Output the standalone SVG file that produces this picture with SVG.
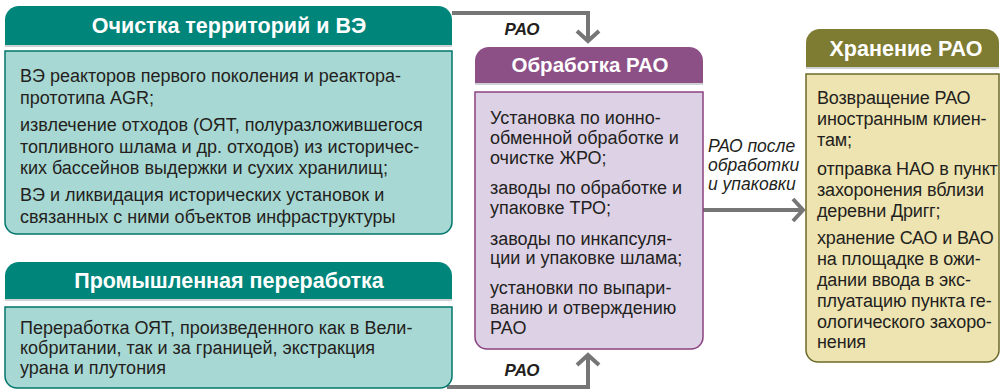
<svg xmlns="http://www.w3.org/2000/svg" width="1001" height="390" viewBox="0 0 1001 390">
  <defs>
    <marker id="chev" markerUnits="userSpaceOnUse" markerWidth="26" markerHeight="26" refX="13" refY="13" orient="auto" viewBox="0 0 26 26">
      <path d="M3,2 L13,13 L3,24" fill="none" stroke="#767676" stroke-width="4"/>
    </marker>
  </defs>
  <style>
    .hdr { font-family: "Liberation Sans", Arial, sans-serif; font-weight: bold; font-size: 21.5px; fill: #ffffff; text-anchor: middle; }
    .hdr-m { font-size: 20.5px; }
    .txt { font-family: "Liberation Sans", Arial, sans-serif; font-size: 18px; fill: #231f20; }
    .txt-r { letter-spacing: -0.15px; }
    .lbl { font-family: "Liberation Sans", Arial, sans-serif; font-style: italic; font-size: 17.5px; fill: #231f20; }
    .lblb { font-family: "Liberation Sans", Arial, sans-serif; font-style: italic; font-weight: bold; font-size: 17px; fill: #231f20; text-anchor: middle; }
    .conn { fill: none; stroke: #767676; stroke-width: 4; }
    .shadow { fill: #cfd2d2; }
    .teal-h { fill: #00857a; }
    .teal-b { fill: #a8d8d3; stroke: #00766c; stroke-width: 1.5; }
    .purp-h { fill: #8c5087; }
    .purp-b { fill: #ddd1e6; stroke: #8a4280; stroke-width: 1.5; }
    .olive-h { fill: #7e7b32; }
    .olive-b { fill: #eee4b1; stroke: #6c6a2a; stroke-width: 1.5; }
  </style>

  <g id="connectors">
    <path class="conn" d="M452,13 H588 V41" marker-end="url(#chev)"/>
    <text class="lblb" x="522" y="35">РАО</text>
    <path class="conn" d="M447,387 H588 V355" marker-end="url(#chev)"/>
    <text class="lblb" x="522" y="376">РАО</text>
    <path class="conn" d="M703,210 H803" marker-end="url(#chev)"/>
    <text class="lbl" x="708" y="152">РАО после</text>
    <text class="lbl" x="708" y="171">обработки</text>
    <text class="lbl" x="708" y="190">и упаковки</text>
  </g>

  <g id="node-cleanup">
    <rect class="shadow" x="5" y="45" width="447" height="2"/>
    <path class="teal-h" d="M5,45 V20 A14,14 0 0 1 19,6 H438 A14,14 0 0 1 452,20 V45 Z"/>
    <text class="hdr" x="229" y="33">Очистка территорий и ВЭ</text>
    <path class="teal-b" d="M5,51 H452 V222 A12,12 0 0 1 440,234 H17 A12,12 0 0 1 5,222 Z"/>
    <text class="txt" x="20" y="82">ВЭ реакторов первого поколения и реактора-</text>
    <text class="txt" x="20" y="104">прототипа AGR;</text>
    <text class="txt" x="20" y="131">извлечение отходов (ОЯТ, полуразложившегося</text>
    <text class="txt" x="20" y="153">топливного шлама и др. отходов) из историчес-</text>
    <text class="txt" x="20" y="174">ких бассейнов выдержки и сухих хранилищ;</text>
    <text class="txt" x="20" y="201">ВЭ и ликвидация исторических установок и</text>
    <text class="txt" x="20" y="223">связанных с ними объектов инфраструктуры</text>
  </g>

  <g id="node-reprocessing">
    <rect class="shadow" x="5" y="299" width="447" height="2"/>
    <path class="teal-h" d="M5,299 V276 A14,14 0 0 1 19,262 H438 A14,14 0 0 1 452,276 V299 Z"/>
    <text class="hdr" x="229" y="288">Промышленная переработка</text>
    <path class="teal-b" d="M5,307 H452 V376 A12,12 0 0 1 440,388 H17 A12,12 0 0 1 5,376 Z"/>
    <text class="txt" x="20" y="334">Переработка ОЯТ, произведенного как в Вели-</text>
    <text class="txt" x="20" y="354">кобритании, так и за границей, экстракция</text>
    <text class="txt" x="20" y="374">урана и плутония</text>
  </g>

  <g id="node-treatment">
    <rect class="shadow" x="475" y="83" width="228" height="2"/>
    <path class="purp-h" d="M475,83 V61 A14,14 0 0 1 489,47 H689 A14,14 0 0 1 703,61 V83 Z"/>
    <text class="hdr hdr-m" x="590" y="72">Обработка РАО</text>
    <path class="purp-b" d="M475,92 H703 V337 A12,12 0 0 1 691,349 H487 A12,12 0 0 1 475,337 Z"/>
    <text class="txt" x="490" y="124">Установка по ионно-</text>
    <text class="txt" x="490" y="144">обменной обработке и</text>
    <text class="txt" x="490" y="164">очистке ЖРО;</text>
    <text class="txt" x="490" y="194">заводы по обработке и</text>
    <text class="txt" x="490" y="214">упаковке ТРО;</text>
    <text class="txt" x="490" y="245">заводы по инкапсуля-</text>
    <text class="txt" x="490" y="264">ции и упаковке шлама;</text>
    <text class="txt" x="490" y="294">установки по выпари-</text>
    <text class="txt" x="490" y="314">ванию и отверждению</text>
    <text class="txt" x="490" y="334">РАО</text>
  </g>

  <g id="node-storage">
    <rect class="shadow" x="806" y="67" width="193" height="2"/>
    <path class="olive-h" d="M806,67 V43 A14,14 0 0 1 820,29 H985 A14,14 0 0 1 999,43 V67 Z"/>
    <text class="hdr" x="906" y="56">Хранение РАО</text>
    <path class="olive-b" d="M806,74 H999 V350 A12,12 0 0 1 987,362 H818 A12,12 0 0 1 806,350 Z"/>
    <text class="txt txt-r" x="817" y="104">Возвращение РАО</text>
    <text class="txt txt-r" x="817" y="125">иностранным клиен-</text>
    <text class="txt txt-r" x="817" y="146">там;</text>
    <text class="txt txt-r" x="817" y="175">отправка НАО в пункт</text>
    <text class="txt txt-r" x="817" y="196">захоронения вблизи</text>
    <text class="txt txt-r" x="817" y="217">деревни Дригг;</text>
    <text class="txt txt-r" x="817" y="244">хранение САО и ВАО</text>
    <text class="txt txt-r" x="817" y="265">на площадке в ожи-</text>
    <text class="txt txt-r" x="817" y="286">дании ввода в экс-</text>
    <text class="txt txt-r" x="817" y="307">плуатацию пункта ге-</text>
    <text class="txt txt-r" x="817" y="328">ологического захоро-</text>
    <text class="txt txt-r" x="817" y="348">нения</text>
  </g>
</svg>
